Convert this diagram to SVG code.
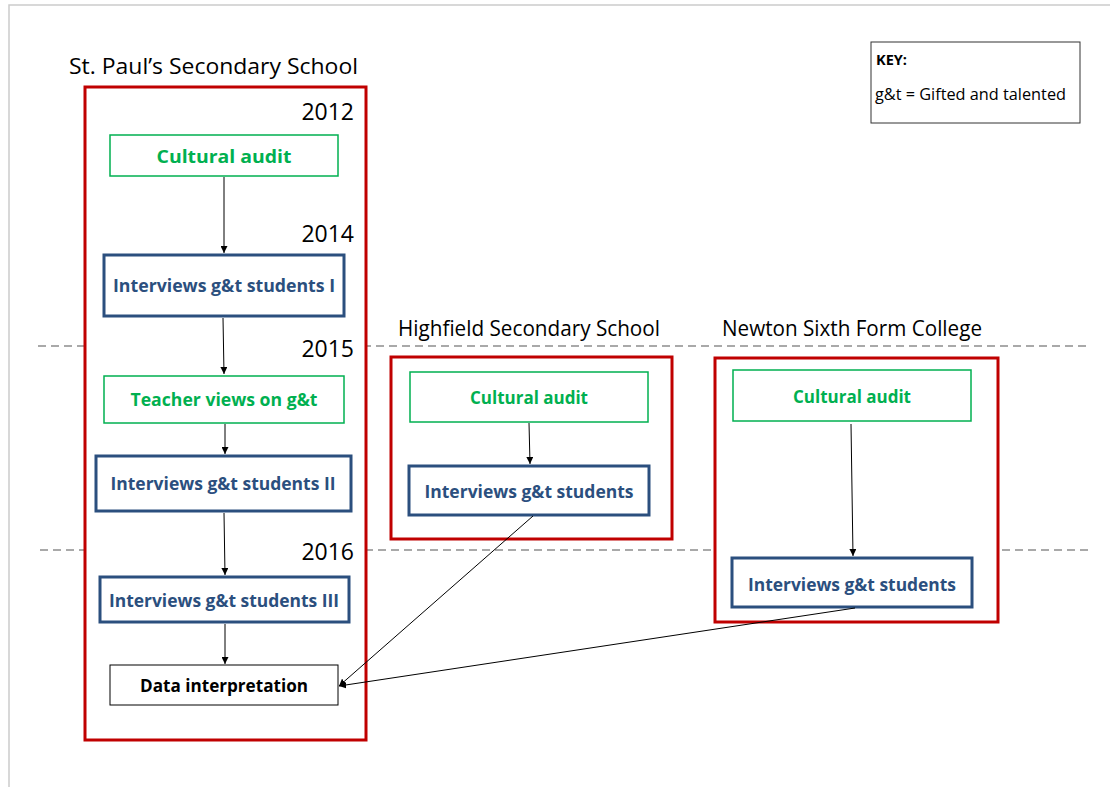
<svg xmlns="http://www.w3.org/2000/svg" width="1110" height="787" viewBox="0 0 1110 787">
<defs>
<marker id="ah" viewBox="0 0 10 10" refX="10" refY="5" markerWidth="7" markerHeight="7" orient="auto" markerUnits="userSpaceOnUse">
<path d="M0,0 L10,5 L0,10 z" fill="#000"/>
</marker>
</defs>
<style>
text{font-family:"Open Sans","Noto Sans","Liberation Sans",sans-serif}
.school{fill:#fff;stroke:#C00000;stroke-width:3}
.green{fill:#fff;stroke:#00B050;stroke-width:1.5}
.blue{fill:#fff;stroke:#2B4F7E;stroke-width:3}
.plain{fill:#fff;stroke:#000;stroke-width:1}
.gt{fill:#00B050;font-weight:bold;font-size:18px;text-anchor:middle}
.bt{fill:#2B4F7E;font-weight:bold;font-size:18px;text-anchor:middle}
.kt{fill:#000;font-weight:bold;font-size:17px;text-anchor:middle}
.title{fill:#000;font-size:21px}
.year{fill:#000;font-size:23px;text-anchor:end}
.dash{stroke:#555;stroke-width:1.2;stroke-dasharray:8 5;fill:none}
.conn{stroke:#000;stroke-width:1;fill:none;marker-end:url(#ah)}
</style>
<rect width="1110" height="787" fill="#fff"/>
<path d="M9,787 V5 H1110" fill="none" stroke="#ccc" stroke-width="1.5"/>
<g id="timelines">
<line class="dash" x1="38" y1="346" x2="1088" y2="346"/>
<line class="dash" x1="40" y1="550" x2="1088" y2="550"/>
</g>
<g id="key">
<rect x="871" y="42" width="209" height="81" fill="#fff" stroke="#333" stroke-width="1"/>
<text x="876" y="65" font-size="15" font-weight="bold" textLength="31" lengthAdjust="spacingAndGlyphs">KEY:</text>
<text x="875" y="100" font-size="16" textLength="191" lengthAdjust="spacingAndGlyphs">g&amp;t = Gifted and talented</text>
</g>
<g id="stpauls">
<text class="title" x="69" y="74" font-size="23" textLength="289" lengthAdjust="spacingAndGlyphs">St. Paul’s Secondary School</text>
<rect class="school" x="85" y="87" width="281" height="653"/>
<text class="year" x="354" y="120">2012</text>
<text class="year" x="354" y="242">2014</text>
<text class="year" x="354" y="357">2015</text>
<text class="year" x="354" y="560">2016</text>
</g>
<g id="sp_audit"><rect class="green" x="110" y="135" width="228" height="41"/><text class="gt" x="224" y="163" font-size="20" textLength="135" lengthAdjust="spacingAndGlyphs">Cultural audit</text></g>
<g id="sp_int1"><rect class="blue" x="104" y="255" width="240" height="61"/><text class="bt" x="224" y="292" textLength="222" lengthAdjust="spacingAndGlyphs">Interviews g&amp;t students I</text></g>
<g id="sp_teacher"><rect class="green" x="104" y="376" width="240" height="47"/><text class="gt" x="224" y="406" textLength="187" lengthAdjust="spacingAndGlyphs">Teacher views on g&amp;t</text></g>
<g id="sp_int2"><rect class="blue" x="96" y="456" width="255" height="55"/><text class="bt" x="223" y="490" textLength="225" lengthAdjust="spacingAndGlyphs">Interviews g&amp;t students II</text></g>
<g id="sp_int3"><rect class="blue" x="100" y="577" width="249" height="45"/><text class="bt" x="224" y="607" textLength="230" lengthAdjust="spacingAndGlyphs">Interviews g&amp;t students III</text></g>
<g id="sp_data"><rect class="plain" x="110" y="665" width="228" height="40"/><text class="kt" x="224" y="692" textLength="168" lengthAdjust="spacingAndGlyphs">Data interpretation</text></g>
<g id="highfield">
<text class="title" x="398" y="336" textLength="262" lengthAdjust="spacingAndGlyphs">Highfield Secondary School</text>
<rect class="school" x="391" y="357" width="281" height="182"/>
</g>
<g id="hf_audit"><rect class="green" x="410" y="372" width="238" height="50"/><text class="gt" x="529" y="404" textLength="118" lengthAdjust="spacingAndGlyphs">Cultural audit</text></g>
<g id="hf_int"><rect class="blue" x="409" y="466" width="240" height="49"/><text class="bt" x="529" y="498" textLength="209" lengthAdjust="spacingAndGlyphs">Interviews g&amp;t students</text></g>
<g id="newton">
<text class="title" x="722" y="336" textLength="260" lengthAdjust="spacingAndGlyphs">Newton Sixth Form College</text>
<rect class="school" x="715" y="358" width="283" height="264"/>
</g>
<g id="nw_audit"><rect class="green" x="733" y="370" width="238" height="51"/><text class="gt" x="852" y="403" textLength="118" lengthAdjust="spacingAndGlyphs">Cultural audit</text></g>
<g id="nw_int"><rect class="blue" x="732" y="558" width="240" height="49"/><text class="bt" x="852" y="591" textLength="208" lengthAdjust="spacingAndGlyphs">Interviews g&amp;t students</text></g>
<g id="connectors">
<line class="conn" x1="224" y1="177" x2="224" y2="253"/>
<line class="conn" x1="223" y1="318" x2="224" y2="374"/>
<line class="conn" x1="225" y1="424" x2="225" y2="454"/>
<line class="conn" x1="224" y1="513" x2="225" y2="575"/>
<line class="conn" x1="225" y1="624" x2="225" y2="664"/>
<line class="conn" x1="529" y1="423" x2="530" y2="464"/>
<line class="conn" x1="851" y1="424" x2="853" y2="556"/>
<line class="conn" x1="533" y1="516" x2="339" y2="686"/>
<line class="conn" x1="855" y1="608" x2="339" y2="686"/>
</g>
</svg>
